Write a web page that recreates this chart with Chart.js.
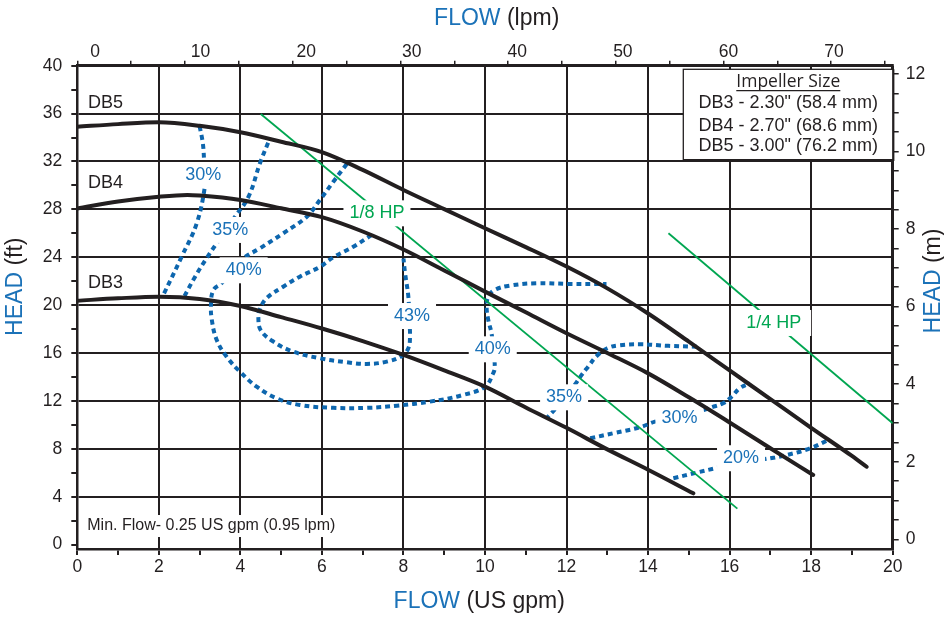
<!DOCTYPE html>
<html>
<head>
<meta charset="utf-8">
<script src="https://cdn.jsdelivr.net/npm/chart.js@4.4.1/dist/chart.umd.min.js"></script>
<style>
html,body{margin:0;padding:0;background:#fff;}
canvas{display:block;}
</style>
</head>
<body>
<canvas id="c" width="944" height="620"></canvas>
<script>
// ---------- DATA ----------
// Pump curves (flow in US gpm, head in ft)
const db5Flow = [0,1,2,3,4,5,6,7,8,9,10,11,12,13,14,15,16,17,18,19,19.36];
const db5Head = [34.9,35.12,35.27,34.98,34.44,33.65,32.78,31.3,29.62,28.02,26.42,24.85,23.22,21.4,19.3,16.95,14.55,12.15,9.75,7.4,6.5];
const db4Flow = [0,1,2,2.7,3,4,5,6,7,8,9,10,11,12,13,14,15,16,17,18.05];
const db4Head = [28.08,28.65,29.05,29.2,29.15,28.78,28.09,27.35,26.15,24.65,22.9,21.13,19.4,17.65,16.0,14.3,12.3,10.2,8.05,5.81];
const db3Flow = [0,1,2,3,4,5,6,7,8,9,10,11,12,13,14,15.11];
const db3Head = [20.37,20.57,20.7,20.52,19.93,19.0,18.05,17.0,15.84,14.55,13.19,11.45,9.75,7.95,6.25,4.28];

// Efficiency contours
const e30aFlow = [3.0,3.08,3.11,3.13,3.13,2.93,2.56,2.11];
const e30aHead = [34.95,33.5,32.1,30.9,29.9,26.84,24.05,20.85];
const e35aFlow = [4.68,4.48,4.2,3.87,3.65,3.42,3.17,2.89,2.6];
const e35aHead = [33.57,31.85,29.06,27.39,26.3,25.17,23.91,22.38,20.57];
const e40Flow = [6.61,6.28,5.95,5.63,5.05,4.48,4.07,3.8,3.54,3.34,3.28,3.3,3.42,3.66,3.99,4.4,4.89,5.46,6.28,7.1,7.84,8.65,9.47,10.0,10.2,10.24,10.2,10.16,10.08,10.04,10.08,10.24,10.61,11.27,12.08,12.98];
const e40Head = [31.79,30.31,28.78,27.39,26.0,24.75,23.91,22.9,21.83,21.27,20.1,18.76,17.09,15.7,14.44,13.19,12.22,11.66,11.42,11.42,11.6,11.94,12.5,13.19,14.3,14.86,16.3,17.65,18.76,19.87,20.7,21.27,21.63,21.83,21.77,21.77];
const e43Flow = [7.22,6.77,6.28,5.95,5.46,5.05,4.64,4.47,4.44,4.5,4.81,5.3,5.95,6.61,7.1,7.59,7.96,8.12,8.16,8.14,8.12,8.04,8.0];
const e43Head = [25.86,24.88,24.0,23.2,22.38,21.54,20.57,19.6,19.0,17.9,16.95,16.11,15.56,15.23,15.09,15.28,15.75,16.4,17.37,19.0,20.71,22.66,23.9];
const e35bFlow = [15.2,14.5,13.8,13.3,13.0,12.74,12.53,12.37,12.2,11.9,11.51];
const e35bHead = [16.53,16.6,16.73,16.65,16.4,15.75,14.86,14.17,13.33,12.0,10.55];
const e30bFlow = [12.58,13.15,13.8,14.17,14.8,15.36,15.56,15.84,16.05,16.25,16.5];
const e30bHead = [8.88,9.3,9.8,10.27,10.8,11.24,11.47,11.8,12.35,13.06,13.47];
const e20Flow = [14.62,15.19,15.64,16.2,16.83,17.4,17.97,18.46];
const e20Head = [5.54,6.01,6.37,6.8,7.12,7.48,8.04,8.8];

// Motor power lines
const hp18Flow = [4.5,16.19];
const hp18Head = [35.97,3.0];
const hp14Flow = [14.5,20.0];
const hp14Head = [26.0,10.13];

// Annotation labels (in data units)
const annText = ['30%','35%','40%','43%','40%','35%','30%','20%','1/8 HP','1/4 HP'];
const annFlow = [3.09,3.75,4.08,8.21,10.19,11.94,14.77,16.28,7.35,17.08];
const annHead = [30.87,26.28,22.91,19.09,16.31,12.3,10.55,7.21,27.67,18.51];
const curveNames = ['DB5','DB4','DB3'];
const curveNameFlow = [0.26,0.26,0.26];
const curveNameHead = [36.87,30.18,21.83];
const noteText = 'Min. Flow- 0.25 US gpm (0.95 lpm)';
const noteFlow = 0.245, noteHead = 1.55;
const legendTitle = 'Impeller Size';
const legendLines = ['DB3 - 2.30" (58.4 mm)','DB4 - 2.70" (68.6 mm)','DB5 - 3.00" (76.2 mm)'];

// Tick values
const gpmTicks = [0,1,2,3,4,5,6,7,8,9,10,11,12,13,14,15,16,17,18,19,20];
const ftTicks = [0,2,4,6,8,10,12,14,16,18,20,22,24,26,28,30,32,34,36,38,40];
const mTicks = [0,0.5,1,1.5,2,2.5,3,3.5,4,4.5,5,5.5,6,6.5,7,7.5,8,8.5,9,9.5,10,10.5,11,11.5,12];
const lpmTicks = [0,5,10,15,20,25,30,35,40,45,50,55,60,65,70,75];
const lpmLabels = [0,10,20,30,40,50,60,70];

// ---------- STYLE ----------
const DARK = '#231f20';
const BLUE = '#0d66ae';
const BLUE_TXT = '#1b72b8';
const GREEN = '#00a651';
const FONT = '"Liberation Sans", Arial, Helvetica, sans-serif';

const pts = (xs, ys) => xs.map((x, i) => ({x: x, y: ys[i]}));

const pumpDs = (xs, ys) => ({data: pts(xs, ys), borderColor: DARK, borderWidth: 4, cubicInterpolationMode: 'monotone', pointRadius: 0, showLine: true, fill: false, borderCapStyle: 'round'});
const effDs = (xs, ys) => ({data: pts(xs, ys), borderColor: BLUE, borderWidth: 4, borderDash: [5, 4], tension: 0.4, pointRadius: 0, showLine: true, fill: false});
const hpDs = (xs, ys) => ({data: pts(xs, ys), borderColor: GREEN, borderWidth: 1.8, tension: 0, pointRadius: 0, showLine: true, fill: false});

function labelBoxes(chart, ctx) {
  const xs = chart.scales.x, ys = chart.scales.y;
  ctx.font = '18px ' + FONT;
  annText.forEach((t, i) => {
    const px = xs.getPixelForValue(annFlow[i]);
    const py = ys.getPixelForValue(annHead[i]);
    const w = ctx.measureText(t).width;
    const extra = t === '1/4 HP' ? 4 : 0;
    ctx.fillStyle = '#ffffff';
    ctx.fillRect(px - w / 2 - 6, py - 13, w + 12 + extra, 26);
  });
  ctx.font = '16px ' + FONT;
  const nx = xs.getPixelForValue(noteFlow), ny = ys.getPixelForValue(noteHead);
  const nw = ctx.measureText(noteText).width;
  ctx.fillRect(nx - 5, ny - 11, nw + 10, 22);
}

const annotPlugin = {
  id: 'annot',
  afterDatasetDraw(chart, args) {
    // datasets are painted last-to-first: after dataset 3, paint label backgrounds
    // so that the pump curves (0..2) stay on top while grid, dots and HP lines get gaps
    if (args.index === 3) {
      const ctx = chart.ctx;
      ctx.save();
      labelBoxes(chart, ctx);
      ctx.restore();
    }
  },
  afterDatasetsDraw(chart) {
    const ctx = chart.ctx, xs = chart.scales.x, ys = chart.scales.y;
    ctx.save();
    ctx.font = '18px ' + FONT;
    ctx.textBaseline = 'middle';
    ctx.textAlign = 'center';
    annText.forEach((t, i) => {
      const px = xs.getPixelForValue(annFlow[i]);
      const py = ys.getPixelForValue(annHead[i]);
      ctx.fillStyle = t.indexOf('HP') >= 0 ? GREEN : BLUE_TXT;
      ctx.fillText(t, px, py);
    });
    // curve names
    ctx.textAlign = 'left';
    ctx.fillStyle = DARK;
    curveNames.forEach((t, i) => {
      ctx.fillText(t, xs.getPixelForValue(curveNameFlow[i]), ys.getPixelForValue(curveNameHead[i]));
    });
    // min flow note
    ctx.font = '16px ' + FONT;
    ctx.fillText(noteText, xs.getPixelForValue(noteFlow), ys.getPixelForValue(noteHead));
    // legend box
    const ca = chart.chartArea;
    const W = 210, H = 90.7;
    const L = ca.right - 209.4, T = ca.top + 3.6;
    ctx.fillStyle = '#ffffff';
    ctx.fillRect(L, T, W, H);
    ctx.strokeStyle = DARK;
    ctx.lineWidth = 1.3;
    ctx.strokeRect(L, T, W, H);
    ctx.lineWidth = 2.2;
    ctx.beginPath();
    ctx.moveTo(L + W, T);
    ctx.lineTo(L + W, T + H);
    ctx.lineTo(L, T + H);
    ctx.stroke();
    const cx = L + W / 2;
    ctx.textAlign = 'center';
    ctx.fillStyle = DARK;
    ctx.font = '17.5px "Open Sans", "Noto Sans", sans-serif';
    ctx.fillText(legendTitle, cx, T + 12.8);
    const tw = ctx.measureText(legendTitle).width;
    ctx.lineWidth = 1.2;
    ctx.beginPath();
    ctx.moveTo(cx - tw / 2, T + 21.4);
    ctx.lineTo(cx + tw / 2, T + 21.4);
    ctx.stroke();
    ctx.font = '18px ' + FONT;
    const lys = [33.9, 56.3, 76.5];
    legendLines.forEach((t, i) => ctx.fillText(t, cx, T + lys[i]));
    ctx.restore();
  },
  afterDraw(chart) {
    const ctx = chart.ctx;
    ctx.save();
    ctx.font = '23px ' + FONT;
    ctx.textBaseline = 'middle';
    ctx.textAlign = 'left';
    const two = (a, b, cx, cy, rot) => {
      ctx.save();
      ctx.translate(cx, cy);
      if (rot) ctx.rotate(-Math.PI / 2);
      const wa = ctx.measureText(a).width, wb = ctx.measureText(b).width;
      const x0 = -(wa + wb) / 2;
      ctx.fillStyle = BLUE_TXT;
      ctx.fillText(a, x0, 0);
      ctx.fillStyle = DARK;
      ctx.fillText(b, x0 + wa, 0);
      ctx.restore();
    };
    two('FLOW', ' (lpm)', 496.7, 18.7, false);
    two('FLOW', ' (US gpm)', 479.2, 601.7, false);
    two('HEAD', ' (ft)', 16, 286.7, true);
    two('HEAD', ' (m)', 934, 281, true);
    ctx.restore();
  }
};

const tickFont = {family: FONT, size: 17.5};

new Chart(document.getElementById('c'), {
  type: 'scatter',
  data: {
    datasets: [
      pumpDs(db5Flow, db5Head), pumpDs(db4Flow, db4Head), pumpDs(db3Flow, db3Head),
      hpDs(hp18Flow, hp18Head), hpDs(hp14Flow, hp14Head),
      effDs(e30aFlow, e30aHead), effDs(e35aFlow, e35aHead), effDs(e40Flow, e40Head),
      effDs(e43Flow, e43Head), effDs(e35bFlow, e35bHead), effDs(e30bFlow, e30bHead),
      effDs(e20Flow, e20Head)
    ]
  },
  options: {
    responsive: false,
    animation: false,
    events: [],
    layout: {padding: 0},
    plugins: {legend: {display: false}, tooltip: {enabled: false}, title: {display: false}},
    scales: {
      x: {
        type: 'linear', position: 'bottom', min: 0, max: 20,
        afterBuildTicks: (s) => { s.ticks = gpmTicks.map(v => ({value: v})); },
        afterFit: (s) => { s.height = 71; },
        grid: {
          color: (c) => (c.tick && c.tick.value % 2 === 0) ? DARK : 'rgba(0,0,0,0)',
          tickColor: DARK, lineWidth: 2, tickLength: 6, drawTicks: true
        },
        border: {display: true, color: DARK, width: 2.5},
        ticks: {
          callback: (v) => (v % 2 === 0 ? String(v) : ''),
          font: tickFont, color: DARK, padding: 2, maxRotation: 0, autoSkip: false
        }
      },
      x2: {
        type: 'linear', position: 'top', min: 0, max: 75.71, weight: 0,
        afterBuildTicks: (s) => { s.ticks = lpmTicks.map(v => ({value: v})); },
        afterFit: (s) => { s.height = 3; },
        grid: {drawOnChartArea: false, tickColor: DARK, tickLength: 5, lineWidth: 1.5},
        border: {display: true, color: DARK, width: 2.5},
        ticks: {display: false}
      },
      x3: {
        type: 'linear', position: 'top', min: -1.677, max: 75.56, weight: 1,
        afterBuildTicks: (s) => { s.ticks = lpmLabels.map(v => ({value: v})); },
        afterFit: (s) => { s.height = 62.7; },
        grid: {display: false, drawTicks: false},
        border: {display: false},
        ticks: {font: tickFont, color: DARK, padding: 0, maxRotation: 0, autoSkip: false}
      },
      y: {
        type: 'linear', position: 'left', min: -0.37, max: 40,
        afterBuildTicks: (s) => { s.ticks = ftTicks.map(v => ({value: v})); },
        afterFit: (s) => { s.width = 77.3; },
        grid: {
          color: (c) => (c.tick && c.tick.value % 4 === 0 && c.tick.value > 0) ? DARK : 'rgba(0,0,0,0)',
          tickColor: DARK, lineWidth: 2, tickLength: 6
        },
        border: {display: true, color: DARK, width: 2.5},
        ticks: {
          callback: (v) => (v % 4 === 0 ? String(v) : ''),
          font: tickFont, color: DARK, padding: 9, autoSkip: false
        }
      },
      y2: {
        type: 'linear', position: 'right', min: -0.25, max: 12.213,
        afterBuildTicks: (s) => { s.ticks = mTicks.map(v => ({value: v})); },
        afterFit: (s) => { s.width = 51.3; },
        grid: {drawOnChartArea: false, tickColor: DARK, tickLength: 6, lineWidth: 1.5},
        border: {display: true, color: DARK, width: 2.5},
        ticks: {
          callback: (v) => (v % 2 === 0 ? String(v) : ''),
          font: tickFont, color: DARK, padding: 7, autoSkip: false
        }
      }
    }
  },
  plugins: [annotPlugin]
});
</script>
</body>
</html>
